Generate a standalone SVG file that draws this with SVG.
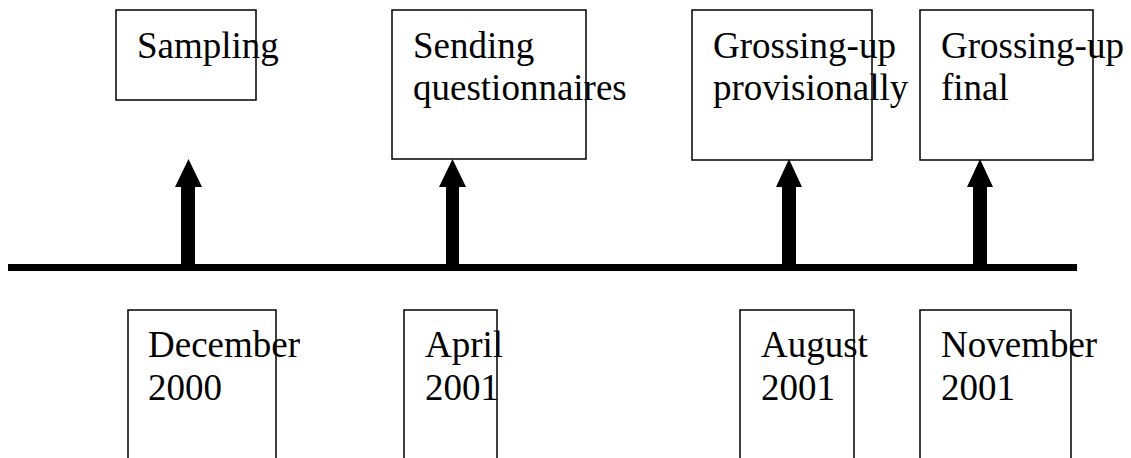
<svg xmlns="http://www.w3.org/2000/svg" width="1131" height="458" viewBox="0 0 1131 458">
<style>
.box{fill:none;stroke:#000;stroke-width:1.5}
.t{font-family:"Liberation Serif","Times New Roman",serif;font-size:37px;fill:#000}
.arr{fill:#000}
</style>
<rect width="1131" height="458" fill="#fff"/>
<g id="connectors">
<rect x="8" y="264" width="1069" height="7" fill="#000"/>
<path class="arr" d="M181,267 V187 H175 L188.5,159 L202,187 H195 V267 Z"/>
<path class="arr" d="M446,267 V187 H439 L452.5,159 L466,187 H459 V267 Z"/>
<path class="arr" d="M782,267 V187 H776 L789,159 L802,187 H796 V267 Z"/>
<path class="arr" d="M973,267 V187 H967 L980,159 L993,187 H987 V267 Z"/>
</g>
<g id="sampling">
<rect class="box" x="116" y="10" width="140" height="90"/>
<text class="t" x="137" y="58">Sampling</text>
</g>
<g id="sending">
<rect class="box" x="392" y="10" width="194" height="149"/>
<text class="t" x="413" y="58">Sending</text>
<text class="t" x="413" y="100">questionnaires</text>
</g>
<g id="provisional">
<rect class="box" x="692" y="10" width="180" height="150"/>
<text class="t" x="713" y="58">Grossing-up</text>
<text class="t" x="713" y="100">provisionally</text>
</g>
<g id="final">
<rect class="box" x="920" y="10" width="173" height="150"/>
<text class="t" x="941" y="58">Grossing-up</text>
<text class="t" x="941" y="100">final</text>
</g>
<g id="dec2000">
<rect class="box" x="128" y="310" width="148" height="160"/>
<text class="t" x="148" y="357">December</text>
<text class="t" x="148" y="400">2000</text>
</g>
<g id="apr2001">
<rect class="box" x="404" y="310" width="93" height="160"/>
<text class="t" x="425" y="357">April</text>
<text class="t" x="425" y="400">2001</text>
</g>
<g id="aug2001">
<rect class="box" x="740" y="310" width="114" height="160"/>
<text class="t" x="761" y="357">August</text>
<text class="t" x="761" y="400">2001</text>
</g>
<g id="nov2001">
<rect class="box" x="920" y="310" width="151" height="160"/>
<text class="t" x="941" y="357">November</text>
<text class="t" x="941" y="400">2001</text>
</g>
</svg>
